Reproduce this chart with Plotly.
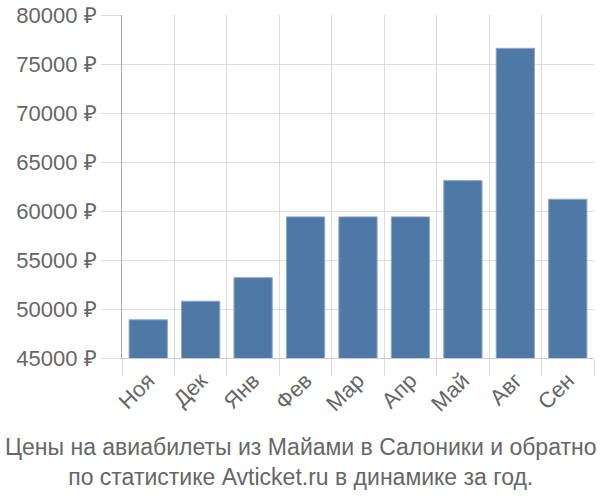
import plotly.graph_objects as go

months = ["Ноя", "Дек", "Янв", "Фев", "Мар", "Апр", "Май", "Авг", "Сен"]
prices = [48900, 50800, 53200, 59400, 59400, 59400, 63100, 76600, 61200]
title_lines = ["Цены на авиабилеты из Майами в Салоники и обратно",
               "по статистике Avticket.ru в динамике за год."]

fig = go.Figure(go.Bar(
    x=months, y=prices,
    marker=dict(color="#4e79a7", line=dict(color="#8fa9c9", width=1)),
))

font = "Liberation Sans, Arial, sans-serif"
fig.update_layout(
    width=600, height=500,
    margin=dict(l=122, r=6, t=15, b=142),
    plot_bgcolor="white", paper_bgcolor="white",
    bargap=0.27,
    showlegend=False,
    font=dict(family=font, color="#666666", size=22),
)
fig.update_xaxes(
    type="category", tickson="boundaries", automargin=False,
    showgrid=True, gridcolor="#dddddd", gridwidth=1,
    ticks="outside", ticklen=17, tickcolor="#dddddd",
    tickangle=-45, tickfont=dict(size=22, color="#666666"),
    showline=True, linecolor="#cccccc", linewidth=1,
)
fig.update_yaxes(
    range=[45000, 80000], dtick=5000, tick0=45000, automargin=False,
    tickformat="d", ticksuffix=" ₽",
    showgrid=True, gridcolor="#dddddd", gridwidth=1,
    ticks="outside", ticklen=20, tickcolor="#dddddd",
    tickfont=dict(size=22, color="#666666"),
    showline=True, linecolor="#aaaaaa", linewidth=1,
    zeroline=False,
)
fig.add_annotation(
    text="<br>".join(title_lines), xref="paper", yref="paper",
    x=0.5, xanchor="center", y=-0.215, yanchor="top", showarrow=False,
    xshift=-58,
    font=dict(size=23, color="#666666", family=font),
)
fig.write_html("out.html")
